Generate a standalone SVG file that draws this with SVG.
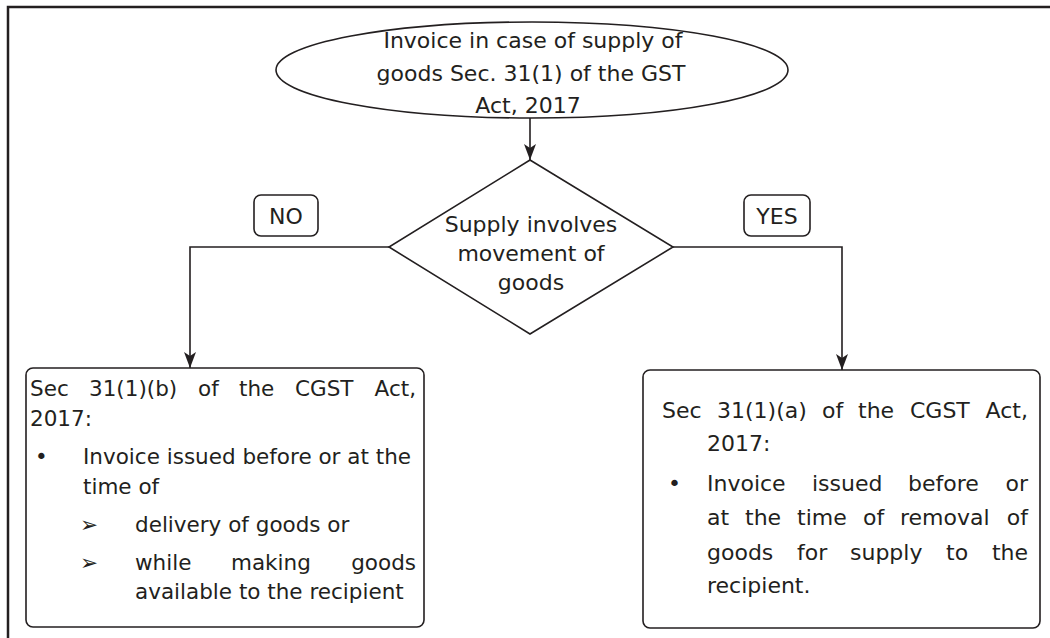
<svg xmlns="http://www.w3.org/2000/svg" width="1050" height="638" viewBox="0 0 1050 638">
<defs>
<marker id="ah" viewBox="0 0 16 12" refX="16" refY="6" markerWidth="16" markerHeight="12" markerUnits="userSpaceOnUse" orient="auto">
<path d="M0,0 L16,6 L0,12 L4,6 Z" fill="#231f20"/>
</marker>
<style>
.t{font-family:"DejaVu Sans","Liberation Sans",sans-serif;fill:#231f20;font-size:22px}
.l{font-size:21.5px}
.s{fill:none;stroke:#231f20;stroke-width:1.6}
.c{fill:none;stroke:#231f20;stroke-width:1.6}
</style>
</defs>
<rect width="1050" height="638" fill="#ffffff"/>
<path d="M8,640 V7 H1052" fill="none" stroke="#231f20" stroke-width="2.5"/>

<g id="connectors">
<path class="c" d="M530,118 V160" marker-end="url(#ah)"/>
<path class="c" d="M389,247 H190 V368" marker-end="url(#ah)"/>
<path class="c" d="M673,247 H842 V370" marker-end="url(#ah)"/>
</g>

<g id="start">
<ellipse class="s" cx="532" cy="70" rx="256" ry="48" stroke-width="2"/>
<text class="t" x="533" y="48" text-anchor="middle" font-size="23">Invoice in case of supply of</text>
<text class="t" x="531" y="81" text-anchor="middle" font-size="23">goods Sec. 31(1) of the GST</text>
<text class="t" x="528" y="113" text-anchor="middle" font-size="23">Act, 2017</text>
</g>

<g id="decision">
<path class="s" d="M530,160 L673,247 L530,334 L389,247 Z"/>
<text class="t" x="531" y="232" text-anchor="middle">Supply involves</text>
<text class="t" x="531" y="261" text-anchor="middle">movement of</text>
<text class="t" x="531" y="290" text-anchor="middle">goods</text>
</g>

<g id="no-label">
<rect class="s" x="254" y="195" width="64" height="41" rx="7"/>
<text class="t" x="286" y="224" text-anchor="middle">NO</text>
</g>

<g id="yes-label">
<rect class="s" x="744" y="195" width="66" height="41" rx="7"/>
<text class="t" x="777" y="224" text-anchor="middle">YES</text>
</g>

<g id="no-box">
<rect class="s" x="26" y="368" width="398" height="259" rx="7"/>
<text class="t l" x="30" y="396">Sec</text>
<text class="t l" x="89" y="396">31(1)(b)</text>
<text class="t l" x="198" y="396">of</text>
<text class="t l" x="239" y="396">the</text>
<text class="t l" x="295" y="396">CGST</text>
<text class="t l" x="416" y="396" text-anchor="end">Act,</text>
<text class="t l" x="30" y="426">2017:</text>
<text class="t l" x="35" y="464">•</text>
<text class="t l" x="83" y="464">Invoice issued before or at the</text>
<text class="t l" x="83" y="494">time of</text>
<text class="t l" x="80" y="532">➢</text>
<text class="t l" x="135" y="532">delivery of goods or</text>
<text class="t l" x="80" y="570">➢</text>
<text class="t l" x="135" y="570">while</text>
<text class="t l" x="231" y="570">making</text>
<text class="t l" x="416" y="570" text-anchor="end">goods</text>
<text class="t l" x="135" y="599">available to the recipient</text>
</g>

<g id="yes-box">
<rect class="s" x="643" y="370" width="397" height="258" rx="7"/>
<text class="t" x="662" y="418">Sec</text>
<text class="t" x="717" y="418">31(1)(a)</text>
<text class="t" x="822" y="418">of</text>
<text class="t" x="858" y="418">the</text>
<text class="t" x="910" y="418">CGST</text>
<text class="t" x="1028" y="418" text-anchor="end">Act,</text>
<text class="t" x="707" y="451">2017:</text>
<text class="t" x="668" y="491">•</text>
<text class="t" x="707" y="491">Invoice</text>
<text class="t" x="812" y="491">issued</text>
<text class="t" x="908" y="491">before</text>
<text class="t" x="1028" y="491" text-anchor="end">or</text>
<text class="t" x="707" y="525">at</text>
<text class="t" x="745" y="525">the</text>
<text class="t" x="797" y="525">time</text>
<text class="t" x="863" y="525">of</text>
<text class="t" x="900" y="525">removal</text>
<text class="t" x="1028" y="525" text-anchor="end">of</text>
<text class="t" x="707" y="560">goods</text>
<text class="t" x="797" y="560">for</text>
<text class="t" x="850" y="560">supply</text>
<text class="t" x="946" y="560">to</text>
<text class="t" x="1028" y="560" text-anchor="end">the</text>
<text class="t" x="707" y="593">recipient.</text>
</g>
</svg>
